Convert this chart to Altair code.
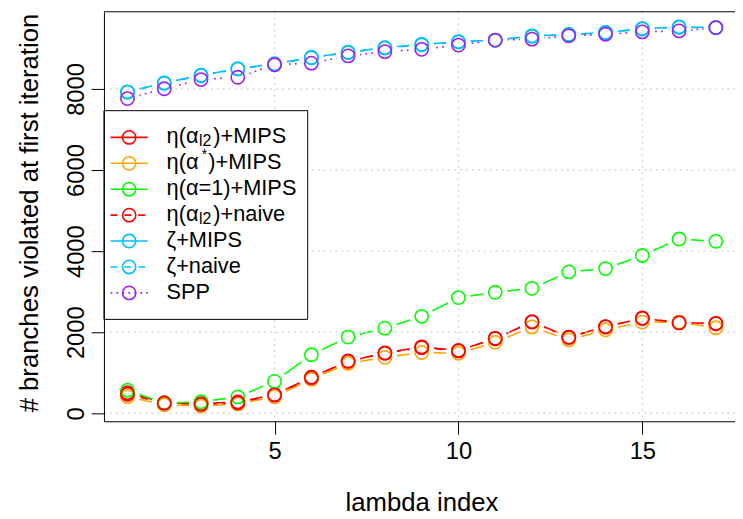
import altair as alt
import pandas as pd

# ---------------- data ----------------
lam = list(range(1, 18))
eta_l2_mips = [510, 260, 240, 280, 460, 890, 1280, 1490, 1640, 1550, 1840, 2260, 1880, 2140, 2340, 2240, 2210]
eta_star_mips = [410, 210, 180, 230, 410, 840, 1230, 1380, 1500, 1480, 1750, 2130, 1810, 2060, 2250, 2250, 2110]
eta_1_mips = [570, 250, 285, 405, 787, 1444, 1881, 2100, 2392, 2854, 2985, 3082, 3487, 3569, 3893, 4299, 4241]
eta_l2_naive = [470, 250, 220, 260, 450, 880, 1290, 1480, 1620, 1540, 1850, 2250, 1870, 2130, 2350, 2230, 2220]
zeta_mips = [7930, 8150, 8338, 8500, 8621, 8775, 8905, 9019, 9100, 9165, 9205, 9311, 9343, 9392, 9489, 9530, 9513]
zeta_naive = [7920, 8140, 8330, 8490, 8610, 8770, 8900, 9010, 9090, 9160, 9200, 9300, 9340, 9390, 9480, 9520, 9510]
spp = [7762, 8005, 8232, 8289, 8597, 8637, 8815, 8921, 8978, 9083, 9205, 9229, 9311, 9350, 9408, 9432, 9513]

series_keys = ["s1", "s2", "s3", "s4", "s5", "s6", "s7"]
series_vals = [eta_l2_mips, eta_star_mips, eta_1_mips, eta_l2_naive, zeta_mips, zeta_naive, spp]
series_colors = ["#FF0000", "#FFA500", "#00FF00", "#FF0000", "#00BFFF", "#00BFFF", "#A020F0"]
SOLID, DASH, DOT = [1, 0], [7, 7], [1.8, 4.2]
series_dash = [SOLID, SOLID, SOLID, DASH, SOLID, DASH, DOT]

x_ticks = [5, 10, 15]
y_ticks = [0, 2000, 4000, 6000, 8000]

X_DOMAIN = [0.36, 17.52]
Y_DOMAIN = [-196, 9904]

FONT = "Liberation Sans"
FS = 22     # legend text
FL = 24     # tick labels
FT = 26     # axis titles
W, H = 638, 414

rows = []
for k, vals in zip(series_keys, series_vals):
    for xv, yv in zip(lam, vals):
        rows.append({"series": k, "x": xv, "y": yv})
df = pd.DataFrame(rows)

xaxis = alt.Axis(values=x_ticks, title="lambda index", grid=False, format="d",
                 domainColor="black", domainWidth=1, tickColor="black", tickSize=13, tickWidth=1,
                 labelFont=FONT, labelFontSize=FL, labelColor="black", labelBaseline="alphabetic",
                 labelPadding=25, labelFlush=False, labelOverlap=False,
                 titleFont=FONT, titleFontSize=FT, titleFontWeight="normal", titleColor="black",
                 titleX=321, titleY=90, titleBaseline="alphabetic", titleAlign="center", zindex=1)
yaxis = alt.Axis(values=y_ticks, title="# branches violated at first iteration", grid=False,
                 format="d",
                 domainColor="black", domainWidth=1, tickColor="black", tickSize=13, tickWidth=1,
                 labelFont=FONT, labelFontSize=FL, labelColor="black", labelAngle=270,
                 labelAlign="center", labelBaseline="alphabetic", labelPadding=8,
                 labelFlush=False, labelOverlap=False,
                 titleFont=FONT, titleFontSize=FT, titleFontWeight="normal", titleColor="black",
                 titleAngle=270, titleX=-67, titleY=203, titleBaseline="alphabetic",
                 titleAlign="center", zindex=1)


def X():
    return alt.X("x:Q", scale=alt.Scale(domain=X_DOMAIN, nice=False, zero=False), axis=xaxis)


def Y():
    return alt.Y("y:Q", scale=alt.Scale(domain=Y_DOMAIN, nice=False, zero=False), axis=yaxis)


color_enc = alt.Color("series:N", scale=alt.Scale(domain=series_keys, range=series_colors), legend=None)
dash_enc = alt.StrokeDash("series:N", scale=alt.Scale(domain=series_keys, range=series_dash), legend=None)

base = alt.Chart(df)
lines = base.mark_line(strokeWidth=1.6).encode(x=X(), y=Y(), color=color_enc, strokeDash=dash_enc,
                                               detail="series:N")
disks = base.mark_circle(color="white", opacity=1, size=600).encode(x=X(), y=Y())
circles = base.mark_point(shape="circle", filled=False, size=180, strokeWidth=1.6, opacity=1).encode(
    x=X(), y=Y(), color=color_enc)

gx = alt.Chart(pd.DataFrame({"x": x_ticks})).mark_rule(color="#D3D3D3", strokeWidth=1.4,
                                                      strokeDash=DOT).encode(x=X())
gy = alt.Chart(pd.DataFrame({"y": y_ticks})).mark_rule(color="#D3D3D3", strokeWidth=1.4,
                                                      strokeDash=DOT).encode(y=Y())
one = pd.DataFrame({"a": [0]})
top_border = alt.Chart(one).mark_rule(color="black", strokeWidth=1).encode(
    y=alt.datum(Y_DOMAIN[1]))

# ---------------- legend (layout in pixels) ----------------
legend_layers = []
legend_layers.append(alt.Chart(one).mark_rect(fill="white", stroke="black", strokeWidth=1).encode(
    x=alt.value(0), x2=alt.value(206), y=alt.value(100), y2=alt.value(311)))

# (main, script, script_kind, rest)
legend_text = [
    ("η(α", "l2", "sub", ")+MIPS"),
    ("η(α", "*", "sup", ")+MIPS"),
    ("η(α=1)+MIPS", "", "", ""),
    ("η(α", "l2", "sub", ")+naive"),
    ("ζ+MIPS", "", "", ""),
    ("ζ+naive", "", "", ""),
    ("SPP", "", "", ""),
]


def txt(t, x, y, fs):
    return alt.Chart(one).mark_text(text=t, align="left", baseline="alphabetic", fontSize=fs,
                                    font=FONT, color="black").encode(x=alt.value(x), y=alt.value(y))


for i, (main, scr, kind, rest) in enumerate(legend_text):
    yc = 127 + i * 26.2
    col = series_colors[i]
    legend_layers.append(alt.Chart(one).mark_rule(color=col, strokeWidth=1.6,
                                                  strokeDash=series_dash[i]).encode(
        x=alt.value(6.7), x2=alt.value(44.3), y=alt.value(yc)))
    legend_layers.append(alt.Chart(one).mark_point(shape="circle", filled=False, size=180,
                                                   strokeWidth=1.6, color=col, opacity=1).encode(
        x=alt.value(25.5), y=alt.value(yc)))
    legend_layers.append(txt(main, 63.3, yc + 6, FS))
    if kind == "sub":
        legend_layers.append(txt(scr, 96, yc + 9, 16))
        legend_layers.append(txt(rest, 110.5, yc + 6, FS))
    elif kind == "sup":
        legend_layers.append(txt(scr, 99, yc - 4, 14))
        legend_layers.append(txt(rest, 105.5, yc + 6, FS))

chart = alt.layer(lines, disks, gx, gy, circles, top_border, *legend_layers).properties(
    width=W, height=H,
    autosize=alt.AutoSizeParams(type="none"),
    padding={"left": 97, "top": 1, "right": 0, "bottom": 96},
).configure_view(strokeWidth=0)

chart.save("out.html", embed_options={"renderer": "svg", "actions": False})
